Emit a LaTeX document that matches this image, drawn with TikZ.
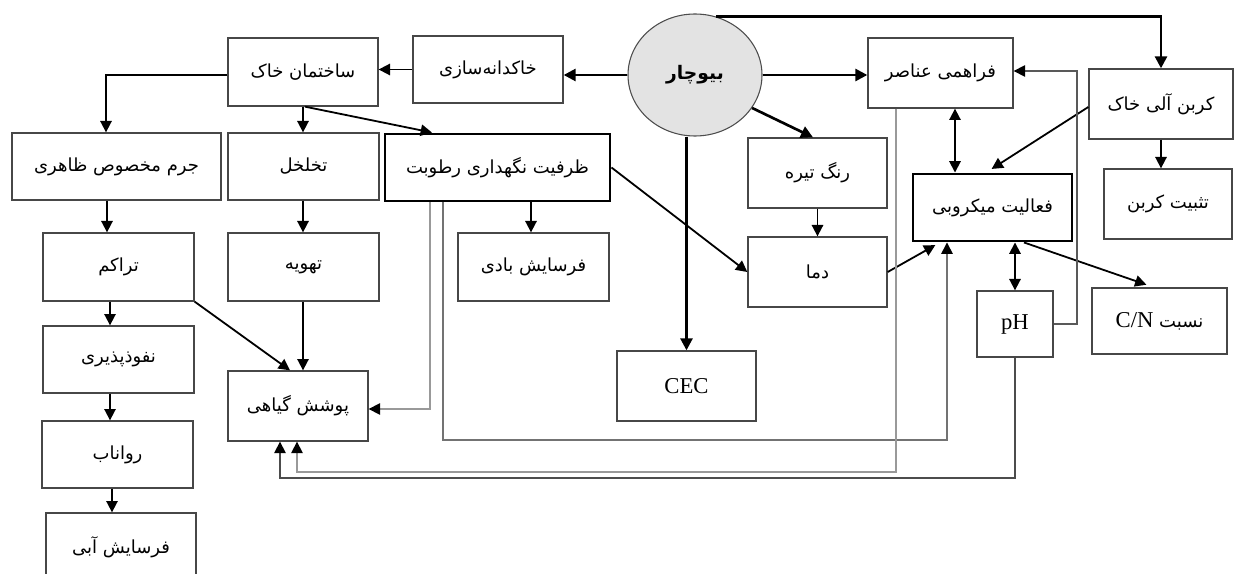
\documentclass[tikz,border=0pt]{standalone}
\usepackage{fontspec}
\setmainfont{Liberation Serif}
\newfontfamily\fa[Script=Arabic]{DejaVu Sans}
\TeXXeTstate=1
\usetikzlibrary{arrows.meta,shapes.geometric}
\newcommand{\rtl}[1]{{\fa\beginR #1\endR}}
\begin{document}
\begin{tikzpicture}[x=0.75pt,y=-0.75pt,
  box/.style={draw=black!72, line width=1pt, inner sep=0pt, fill=white, font=\fontsize{13.5}{15}\selectfont},
  sz/.style 2 args={minimum width=#1*0.75pt, minimum height=#2*0.75pt},
  tbox/.style={box, draw=black, line width=2.2pt},
  arr/.style={line width=1.35pt, -{Triangle[length=8.5pt,width=8.5pt]}},
  darr/.style={line width=1.35pt, {Triangle[length=8.5pt,width=8.5pt]}-{Triangle[length=8.5pt,width=8.5pt]}},
  tarr/.style={line width=2pt, -{Triangle[length=9pt,width=9pt]}},
  garr/.style={line width=1.1pt, -{Triangle[length=8.5pt,width=8.5pt,color=black]}},
  lat/.style={font=\fontsize{17}{19}\selectfont}]
\clip (0,0) rectangle (1236,574);
\fill[white] (0,0) rectangle (1236,574);
% nodes
\node[box, sz={150}{68}] (A) at (303,72) {\rtl{ساختمان خاک}};
\node[box, sz={150}{67}] (B) at (488,69.5) {\rtl{خاکدانه‌سازی}};
\node[ellipse, draw=black!70, line width=0.8pt, fill=black!11, minimum width=100.5pt, minimum height=91.5pt, inner sep=0pt, font=\fontsize{14}{16}\selectfont] (C) at (695,75) {{\fa\bfseries\beginR بیوچار\endR}};
\node[box, sz={145}{70}] (D) at (940.5,73) {\rtl{فراهمی عناصر}};
\node[box, sz={144}{70}] (E) at (1161,104) {\rtl{کربن آلی خاک}};
\node[box, sz={128}{70}] (F) at (1168,204) {\rtl{تثبیت کربن}};
\node[tbox, sz={159}{67}] (G) at (992.5,207.5) {\rtl{فعالیت میکروبی}};
\node[box, sz={139}{70}] (H) at (817.5,173) {\rtl{رنگ تیره}};
\node[box, sz={139}{70}] (I) at (817.5,272) {\rtl{دما}};
\node[box, lat, sz={76}{66}] (J) at (1015,324) {pH};
\node[box, sz={135}{66}] (K) at (1159.5,321) {{\fa\beginR نسبت \beginL{\rmfamily\fontsize{17}{19}\selectfont C/N}\endL\endR}};
\node[box, lat, sz={139}{70}] (L) at (686.5,386) {CEC};
\node[box, sz={151}{68}] (M) at (533.5,267) {\rtl{فرسایش بادی}};
\node[tbox, sz={225}{67}] (N) at (497.5,167.5) {\rtl{ظرفیت نگهداری رطوبت}};
\node[box, sz={151}{67}] (O) at (303.5,166.5) {\rtl{تخلخل}};
\node[box, sz={209}{67}] (P) at (116.5,166.5) {\rtl{جرم مخصوص ظاهری}};
\node[box, sz={151}{68}] (Q) at (303.5,267) {\rtl{تهویه}};
\node[box, sz={151}{68}] (R) at (118.5,267) {\rtl{تراکم}};
\node[box, sz={151}{67}] (S) at (118.5,359.5) {\rtl{نفوذپذیری}};
\node[box, sz={151}{67}] (T) at (117.5,454.5) {\rtl{رواناب}};
\node[box, sz={150}{68}] (U) at (121,547) {\rtl{فرسایش آبی}};
\node[box, sz={140}{70}] (V) at (298,406) {\rtl{پوشش گیاهی}};
% biochar connectors
\draw[tarr] (C.west) -- (B.east |- C.west);
\draw[tarr] (C.east) -- (D.west |- C.east);
\draw[tarr] (C.70) -| (E.north);
\draw[tarr] (C.-30) -- (H.north -| 813,0);
\draw[tarr] (C.south -| L.north) -- (L.north);
% left part
\draw[arr] (B.west) -- (A.east |- B.west);
\draw[arr] (A.west |- 0,75) -| (P.north -| 106,0);
\draw[arr] (A.south) -- (O.north -| A.south);
\draw[arr] (A.south -| 305,0) -- (N.north -| 432,0);
\draw[arr] (P.south -| 107,0) -- (R.north -| 107,0);
\draw[arr] (R.south -| 110,0) -- (S.north -| 110,0);
\draw[arr] (S.south -| 110,0) -- (T.north -| 110,0);
\draw[arr] (T.south -| 112,0) -- (U.north -| 112,0);
\draw[arr] (O.south -| 303,0) -- (Q.north -| 303,0);
\draw[arr] (Q.south -| 303,0) -- (V.north -| 303,0);
\draw[arr] (R.south east) -- (V.north -| 290,0);
% middle
\draw[arr] (N.south -| 531,0) -- (M.north -| 531,0);
\draw[arr] (N.east) -- (I.west);
\draw[arr] (H.south) -- (I.north);
\draw[arr, shorten >=4pt] (I.east) -- (G.south -| 940,0);
% right
\draw[darr] (D.south -| 955,0) -- (G.north -| 955,0);
\draw[arr, shorten >=5pt] (E.west |- 0,107) -- (G.north -| 986,0);
\draw[arr] (E.south) -- (E.south |- F.north);
\draw[darr] (G.south -| J.north) -- (J.north);
\draw[arr, shorten >=6pt] (G.south -| 1024,0) -- (K.north -| 1154,0);
% thin feedback lines
\draw[garr, draw=black!65] (J.east) -| (1077,71) -- (D.east |- 0,71);
\draw[garr, draw=black!55] (N.south -| 443,0) |- (947,440) -- (G.south -| 947,0);
\draw[garr, draw=black!40] (N.south -| 430,0) |- (V.east |- 0,409);
\draw[garr, draw=black!40] (D.south -| 896,0) |- (297,472) -- (V.south -| 297,0);
\draw[garr, draw=black!70] (J.south) |- (280,478) -- (V.south -| 280,0);
\end{tikzpicture}
\end{document}
